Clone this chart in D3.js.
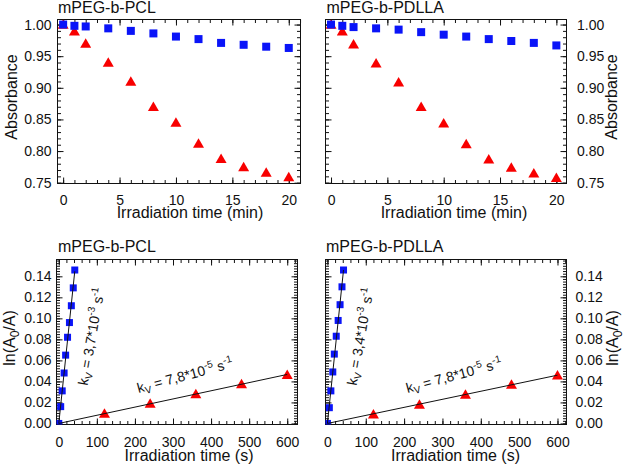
<!DOCTYPE html>
<html lang="en">
<head>
    <meta charset="UTF-8">
    <script src="https://d3js.org/d3.v7.min.js"></script>
    <style>
        body { margin: 0; padding: 0; background: #fff; }
        svg text { font-family: 'Liberation Sans', Arial, sans-serif; fill: #111; }
    </style>
</head>
<body>
    <div id="chart"></div>
    <script>
        // Data
        const minutes = [0, 1, 2, 4, 6, 8, 10, 12, 14, 16, 18, 20];
        const absPclBlue = [1.000, 0.998, 0.997, 0.994, 0.990, 0.986, 0.981, 0.977, 0.971, 0.968, 0.965, 0.963];
        const absPclRed = [1.000, 0.9895, 0.970, 0.940, 0.910, 0.870, 0.845, 0.812, 0.788, 0.775, 0.766, 0.759];
        const absPdllaBlue = [1.000, 0.998, 0.996, 0.994, 0.992, 0.988, 0.984, 0.981, 0.977, 0.974, 0.971, 0.967];
        const absPdllaRed = [1.000, 0.9895, 0.969, 0.939, 0.909, 0.870, 0.844, 0.811, 0.787, 0.774, 0.765, 0.758];

        const secondsBlue = [0, 5, 9, 14, 18, 23, 28, 33, 38, 42];
        const lnPclBlue = [0, 0.016, 0.031, 0.048, 0.065, 0.082, 0.096, 0.112, 0.129, 0.146];
        const lnPdllaBlue = [0, 0.015, 0.031, 0.049, 0.066, 0.083, 0.098, 0.113, 0.130, 0.146];
        const secondsRed = [120, 240, 360, 480, 600];
        const lnPclRed = [0.0094, 0.019, 0.028, 0.0375, 0.0463];
        const lnPdllaRed = [0.0088, 0.018, 0.0275, 0.037, 0.046];

        const titles = ["mPEG-b-PCL", "mPEG-b-PDLLA"];
        const kBlueText = ["3,7", "3,4"];
        const kRedText = ["7,8", "7,8"];
        const absTicks = [0.75, 0.80, 0.85, 0.90, 0.95, 1.00];
        const minTicks = [0, 5, 10, 15, 20];
        const lnTicks = [0, 0.02, 0.04, 0.06, 0.08, 0.10, 0.12, 0.14];
        const secTicks = [0, 100, 200, 300, 400, 500, 600];

        const BLUE = "#0a14f8", RED = "#f80000";
        const W = 625, H = 464;

        const svg = d3.select("#chart").append("svg")
            .attr("width", W).attr("height", H);

        function axis(g, gen, scale, vals, size, tr, fmt, pad) {
            const a = g.append("g").attr("transform", tr)
                .call(gen(scale).tickValues(vals).tickSize(-size)
                    .tickPadding(pad || 0).tickFormat(fmt || (() => "")));
            a.select(".domain").remove();
            a.attr("font-family", null).attr("font-size", 14);
            a.selectAll("line").attr("stroke", "#111");
            return a;
        }

        function minorVals(dom, step) {
            const lo = Math.ceil(dom[0] / step), hi = Math.floor(dom[1] / step);
            return d3.range(lo, hi + 1).map(i => +(i * step).toFixed(5));
        }

        function triangle(w, h) {
            return `M0,${-h * 0.55}L${w / 2},${h * 0.45}L${-w / 2},${h * 0.45}Z`;
        }

        function panel(o) {
            const g = svg.append("g");
            const x = d3.scaleLinear().domain(o.xDom).range([o.left, o.right]);
            const y = d3.scaleLinear().domain(o.yDom).range([o.bottom, o.top]);

            svg.append("clipPath").attr("id", "clip" + o.id).append("rect")
                .attr("x", o.left).attr("y", o.top)
                .attr("width", o.right - o.left).attr("height", o.bottom - o.top);

            // ticks inside on all four sides
            const xMinor = minorVals(o.xDom, o.xMinor), yMinor = minorVals(o.yDom, o.yMinor);
            const maj = 6, mnr = 3.5;
            axis(g, d3.axisBottom, x, xMinor, mnr, `translate(0,${o.bottom})`);
            axis(g, d3.axisTop, x, xMinor, mnr, `translate(0,${o.top})`);
            axis(g, d3.axisTop, x, o.xTicks, maj, `translate(0,${o.top})`);
            axis(g, d3.axisLeft, y, yMinor, mnr, `translate(${o.left},0)`);
            axis(g, d3.axisRight, y, yMinor, mnr, `translate(${o.right},0)`);
            axis(g, d3.axisBottom, x, o.xTicks, maj, `translate(0,${o.bottom})`, d3.format("d"), o.xPad);
            if (o.yRight) {
                axis(g, d3.axisLeft, y, o.yTicks, maj, `translate(${o.left},0)`);
                axis(g, d3.axisRight, y, o.yTicks, maj, `translate(${o.right},0)`, d3.format(".2f"), o.yPad);
            } else {
                axis(g, d3.axisRight, y, o.yTicks, maj, `translate(${o.right},0)`);
                axis(g, d3.axisLeft, y, o.yTicks, maj, `translate(${o.left},0)`, d3.format(".2f"), o.yPad);
            }

            g.append("rect")
                .attr("x", o.left).attr("y", o.top)
                .attr("width", o.right - o.left).attr("height", o.bottom - o.top)
                .attr("fill", "none").attr("stroke", "#111").attr("stroke-width", 1);

            const marks = g.append("g").attr("clip-path", `url(#clip${o.id})`);

            marks.selectAll(".tri").data(o.redX.map((t, i) => [t, o.redY[i]]))
                .join("path").attr("class", "tri")
                .attr("d", triangle(o.triW, o.triH))
                .attr("transform", d => `translate(${x(d[0])},${y(d[1])})`)
                .attr("fill", RED);

            marks.selectAll(".sq").data(o.blueX.map((t, i) => [t, o.blueY[i]]))
                .join("rect").attr("class", "sq")
                .attr("x", d => x(d[0]) - o.sq / 2).attr("y", d => y(d[1]) - o.sq / 2)
                .attr("width", o.sq).attr("height", o.sq)
                .attr("fill", BLUE);

            if (o.fits) {
                // least squares through the origin
                const slope = (xs, ys) => d3.sum(xs, (t, i) => t * ys[i]) / d3.sum(xs, t => t * t);
                const kb = slope(o.blueX, o.blueY), kr = slope(o.redX, o.redY);
                const line = d3.line().x(d => x(d[0])).y(d => y(d[1]));
                const tb = d3.max(o.blueX), tr = d3.max(o.redX);
                marks.append("path").attr("d", line([[0, 0], [tb, kb * tb]]))
                    .attr("stroke", "#111").attr("fill", "none").attr("stroke-width", 1);
                marks.append("path").attr("d", line([[0, 0], [tr, kr * tr]]))
                    .attr("stroke", "#111").attr("fill", "none").attr("stroke-width", 1);

                kLabel(g, o.left + 31, 386, -80, o.kBlue, "-3");
                kLabel(g, o.left + 82, 393, -15, o.kRed, "-5");
            }

            // titles
            g.append("text").attr("x", o.titleX).attr("y", o.titleY)
                .attr("font-size", 16).text(o.title);
            g.append("text").attr("x", o.xTitleX).attr("y", o.xTitleY)
                .attr("text-anchor", "middle").attr("font-size", 16).text(o.xTitle);
            const yt = g.append("text")
                .attr("transform", `translate(${o.yTitleX},${o.yTitleY}) rotate(-90)`)
                .attr("text-anchor", "middle").attr("font-size", 16);
            if (o.fits) {
                yt.append("tspan").text("ln(A");
                yt.append("tspan").attr("font-size", 12).attr("dy", 4).text("0");
                yt.append("tspan").attr("dy", -4).text("/A)");
            } else {
                yt.text("Absorbance");
            }
        }

        function kLabel(g, x0, y0, angle, mant, exp) {
            const t = g.append("text")
                .attr("transform", `translate(${x0},${y0}) rotate(${angle})`)
                .attr("font-size", 14);
            t.append("tspan").text("k");
            t.append("tspan").attr("font-size", 10).attr("dy", 3).text("V");
            t.append("tspan").attr("dy", -3).text(` = ${mant}*10`);
            t.append("tspan").attr("font-size", 10).attr("dy", -6).text(exp);
            t.append("tspan").attr("dy", 6).text(" s");
            t.append("tspan").attr("font-size", 10).attr("dy", -6).text("-1");
        }

        const topCommon = {
            top: 19.5, bottom: 183.5, yDom: [0.7487, 1.008],
            xTicks: minTicks, yTicks: absTicks, xMinor: 1, yMinor: 0.01,
            blueX: minutes, redX: minutes, sq: 8, triW: 11, triH: 9.5,
            xTitle: "Irradiation time (min)", xTitleY: 218, xPad: 11.5,
            titleY: 13, yTitleY: 97
        };
        const botCommon = {
            top: 259.5, bottom: 424.5, yDom: [-0.001, 0.156],
            xTicks: secTicks, yTicks: lnTicks, xMinor: 20, yMinor: 0.0025,
            blueX: secondsBlue, redX: secondsRed, sq: 7, triW: 11, triH: 9.5,
            xTitle: "Irradiation time (s)", xTitleY: 461, xPad: 13,
            titleY: 252, yTitleY: 338, fits: true
        };

        panel(Object.assign({}, topCommon, {
            id: "a", left: 57.5, right: 300.5, xDom: [-0.5, 21.04],
            blueY: absPclBlue, redY: absPclRed, yPad: 6,
            title: titles[0], titleX: 58, xTitleX: 190, yTitleX: 17
        }));
        panel(Object.assign({}, topCommon, {
            id: "b", left: 325.5, right: 566.5, xDom: [-0.49, 20.9],
            blueY: absPdllaBlue, redY: absPdllaRed, yPad: 10.5, yRight: true,
            title: titles[1], titleX: 326.5, xTitleX: 454, yTitleX: 617
        }));
        panel(Object.assign({}, botCommon, {
            id: "c", left: 56.5, right: 297.5, xDom: [-6, 627],
            blueY: lnPclBlue, redY: lnPclRed, yPad: 5,
            kBlue: kBlueText[0], kRed: kRedText[0],
            title: titles[0], titleX: 58, xTitleX: 189, yTitleX: 15
        }));
        panel(Object.assign({}, botCommon, {
            id: "d", left: 325.5, right: 566.5, xDom: [-5, 623.5],
            blueY: lnPdllaBlue, redY: lnPdllaRed, yPad: 9, yRight: true,
            kBlue: kBlueText[1], kRed: kRedText[1],
            title: titles[1], titleX: 326, xTitleX: 455.5, yTitleX: 618
        }));
    </script>
</body>
</html>
